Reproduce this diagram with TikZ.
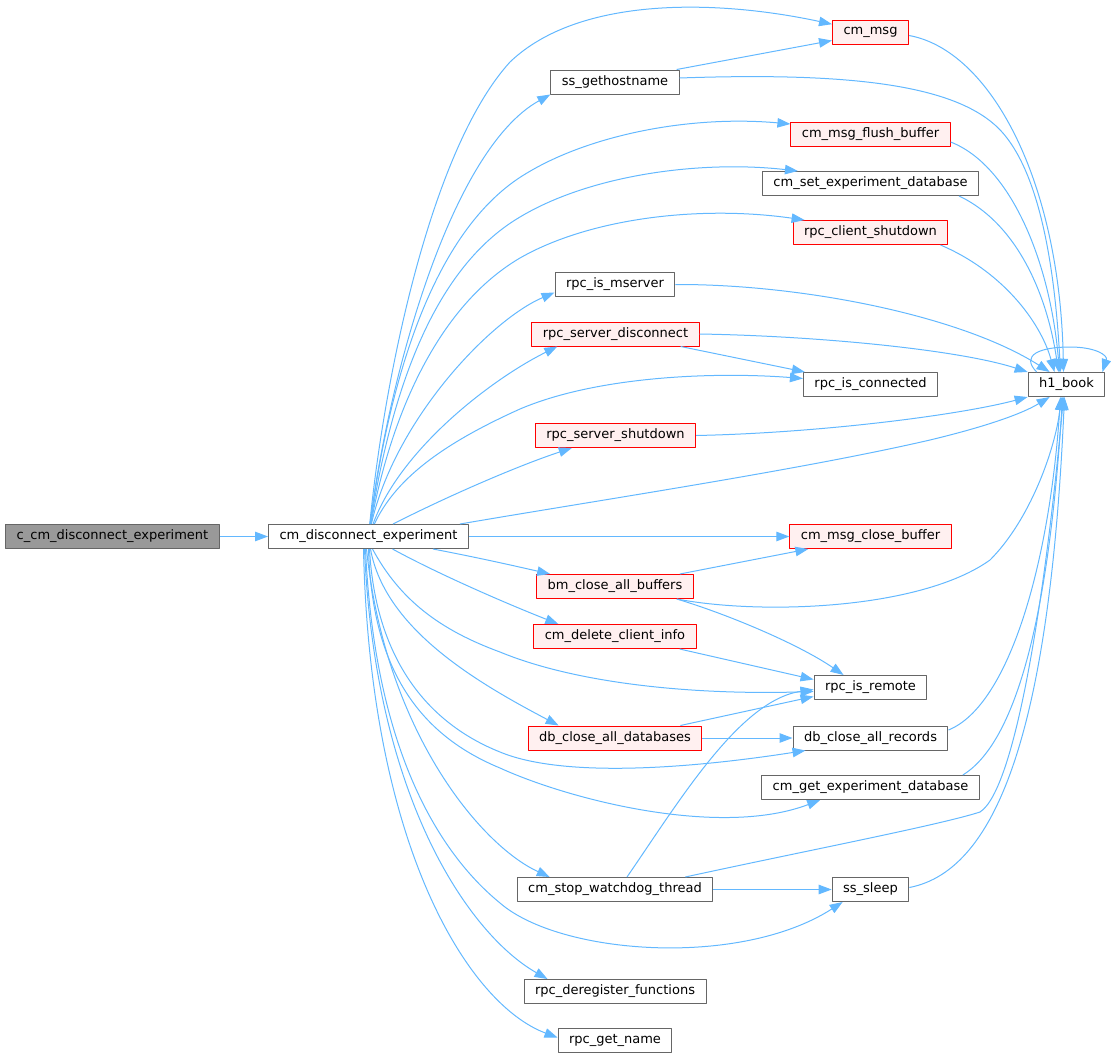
\documentclass[tikz,border=0pt]{standalone}
\usepackage{fontspec}
\setmainfont{DejaVu Sans}
\usetikzlibrary{arrows.meta}

\definecolor{edgecol}{HTML}{63B8FF}
\definecolor{nodegrey}{HTML}{666666}
\definecolor{redfill}{HTML}{FFF0F0}
\definecolor{rootfill}{HTML}{999999}

\begin{document}
\begin{tikzpicture}[>={Triangle[length=13bp,width=9.5bp]},line join=bevel,x=1bp,y=-1bp,
  fn/.style={draw=nodegrey,fill=white,line width=1bp,minimum height=24bp,
    inner xsep=11bp,inner ysep=0pt,font=\fontsize{13bp}{15bp}\selectfont},
  fnred/.style={fn,draw=red,fill=redfill},
  fnroot/.style={fn,fill=rootfill},
  call/.style={->,draw=edgecol,line width=1bp}]
\useasboundingbox (0,0) rectangle (1111,1059);

% Node: root
\node[fnroot] (root) at (112.5,536.5) {c\_cm\_disconnect\_experiment};
% Node: cde
\node[fn] (cde) at (368.5,536.5) {cm\_disconnect\_experiment};
% Node: cmmsg
\node[fnred] (cmmsg) at (870.5,32.5) {cm\_msg};
% Node: ssget
\node[fn] (ssget) at (615,82) {ss\_gethostname};
% Node: flush
\node[fnred] (flush) at (870.5,134) {cm\_msg\_flush\_buffer};
% Node: setdb
\node[fn] (setdb) at (870.5,183.5) {cm\_set\_experiment\_database};
% Node: clishut
\node[fnred] (clishut) at (870.5,232.5) {rpc\_client\_shutdown};
% Node: mserver
\node[fn] (mserver) at (615,284.5) {rpc\_is\_mserver};
% Node: srvdisc
\node[fnred] (srvdisc) at (615.5,334) {rpc\_server\_disconnect};
% Node: isconn
\node[fn] (isconn) at (870.5,384.5) {rpc\_is\_connected};
% Node: srvshut
\node[fnred] (srvshut) at (615.5,435.5) {rpc\_server\_shutdown};
% Node: h1
\node[fn] (h1) at (1066.5,384.5) {h1\_book};
% Node: closebuf
\node[fnred] (closebuf) at (870.5,536.5) {cm\_msg\_close\_buffer};
% Node: bmclose
\node[fnred] (bmclose) at (615,586.5) {bm\_close\_all\_buffers};
% Node: delinfo
\node[fnred] (delinfo) at (615,636.5) {cm\_delete\_client\_info};
% Node: isremote
\node[fn] (isremote) at (870.5,687.5) {rpc\_is\_remote};
% Node: dbclose
\node[fnred] (dbclose) at (615,738) {db\_close\_all\_databases};
% Node: dbrecs
\node[fn] (dbrecs) at (870.5,738) {db\_close\_all\_records};
% Node: getdb
\node[fn] (getdb) at (870.5,787.5) {cm\_get\_experiment\_database};
% Node: stopwd
\node[fn] (stopwd) at (615,889.5) {cm\_stop\_watchdog\_thread};
% Node: sleep
\node[fn] (sleep) at (870.5,889.5) {ss\_sleep};
% Node: dereg
\node[fn] (dereg) at (615,991.5) {rpc\_deregister\_functions};
% Node: getname
\node[fn] (getname) at (615,1040.5) {rpc\_get\_name};

% Edge: root -> cde
\draw[call] (root) -- (cde);

% Edge: cde -> cmmsg
\draw[call] (cde) .. controls (384,380) and (430,150) .. (510,62) .. controls (580,-5) and (720,0) .. (cmmsg);
% Edge: cde -> ssget
\draw[call] (cde) .. controls (388,380) and (450,150) .. (ssget.south west);
% Edge: cde -> flush
\draw[call] (cde) .. controls (388,390) and (430,230) .. (527,173) .. controls (590,135) and (690,115) .. ([yshift=10bp]flush.west);
% Edge: cde -> setdb
\draw[call] (cde) .. controls (390,400) and (430,270) .. (520,217) .. controls (590,175) and (700,160) .. ([xshift=36bp]setdb.north west);
% Edge: cde -> clishut
\draw[call] (cde) .. controls (392,410) and (440,305) .. (520,258) .. controls (590,218) and (700,205) .. ([xshift=12bp]clishut.north west);
% Edge: cde -> mserver
\draw[call] (cde) .. controls (395,420) and (490,320) .. ([yshift=-8bp]mserver.west);
% Edge: cde -> srvdisc
\draw[call] (cde) .. controls (400,450) and (490,380) .. ([xshift=26bp]srvdisc.south west);
% Edge: cde -> isconn
\draw[call] (cde) .. controls (395,480) and (440,445) .. (520,409) .. controls (600,375) and (720,372) .. ([yshift=6bp]isconn.west);
% Edge: cde -> srvshut
\draw[call] (cde) .. controls (450,495) and (520,465) .. ([xshift=37bp]srvshut.south west);
% Edge: cde -> h1
\draw[call] ([xshift=-9bp]cde.north east) .. controls (600,500) and (800,470) .. (930,440) .. controls (980,428) and (1020,415) .. ([xshift=22bp]h1.south west);
% Edge: cde -> closebuf
\draw[call] (cde) -- (closebuf);
% Edge: cde -> bmclose
\draw[call] ([xshift=-36bp]cde.south east) .. controls (480,558) and (515,566) .. ([xshift=14bp]bmclose.north west);
% Edge: cde -> delinfo
\draw[call] ([xshift=24bp]cde.south) .. controls (440,575) and (510,605) .. ([xshift=25bp]delinfo.north west);
% Edge: cde -> isremote
\draw[call] ([xshift=4bp]cde.south) .. controls (400,600) and (440,630) .. (500,652) .. controls (580,685) and (700,695) .. ([yshift=-4bp]isremote.west);
% Edge: cde -> dbclose
\draw[call] ([xshift=2bp]cde.south) .. controls (385,630) and (480,684) .. ([xshift=31bp]dbclose.north west);
% Edge: cde -> dbrecs
\draw[call] ([xshift=1bp]cde.south) .. controls (375,650) and (420,720) .. (500,752) .. controls (560,777) and (680,770) .. ([xshift=13bp]dbrecs.south west);
% Edge: cde -> getdb
\draw[call] (cde.south) .. controls (372,670) and (420,735) .. (500,768) .. controls (570,800) and (720,838) .. ([xshift=59bp]getdb.south west);
% Edge: cde -> stopwd
\draw[call] ([xshift=-2bp]cde.south) .. controls (385,730) and (480,845) .. ([xshift=33bp]stopwd.north west);
% Edge: cde -> sleep
\draw[call] ([xshift=-3bp]cde.south) .. controls (375,760) and (445,858) .. (500,903) .. controls (560,955) and (740,968) .. ([xshift=11bp]sleep.south west);
% Edge: cde -> dereg
\draw[call] ([xshift=-4bp]cde.south) .. controls (375,800) and (470,935) .. ([xshift=24bp]dereg.north west);
% Edge: cde -> getname
\draw[call] ([xshift=-5bp]cde.south) .. controls (370,850) and (470,1005) .. ([yshift=3bp]getname.west);

% Edge: ssget -> cmmsg
\draw[call] ([xshift=-3bp]ssget.north east) -- ([yshift=-8bp]cmmsg.west);
% Edge: ssget -> h1
\draw[call] ([yshift=4bp]ssget.east) .. controls (850,72) and (950,85) .. (995,125) .. controls (1040,165) and (1055,270) .. ([xshift=-6bp]h1.north);
% Edge: cmmsg -> h1
\draw[call] ([yshift=-3bp]cmmsg.east) .. controls (990,50) and (1060,180) .. ([xshift=-3bp]h1.north);
% Edge: flush -> h1
\draw[call] ([yshift=-8bp]flush.east) .. controls (1010,165) and (1050,260) .. ([xshift=-7bp]h1.north);
% Edge: setdb -> h1
\draw[call] ([xshift=-20bp]setdb.south east) .. controls (1020,225) and (1048,300) .. ([xshift=-8bp]h1.north);
% Edge: clishut -> h1
\draw[call] ([xshift=-8bp]clishut.south east) .. controls (1000,270) and (1040,320) .. ([xshift=-12bp]h1.north);
% Edge: mserver -> h1
\draw[call] (mserver.east) .. controls (800,284) and (960,315) .. ([xshift=22bp]h1.north west);
% Edge: srvdisc -> h1
\draw[call] (srvdisc.east) .. controls (820,336) and (960,350) .. (h1.north west);
% Edge: srvdisc -> isconn
\draw[call] ([xshift=-19bp]srvdisc.south east) -- ([xshift=2bp]isconn.north west);
% Edge: srvshut -> h1
\draw[call] (srvshut.east) .. controls (820,433) and (960,415) .. (h1.south west);
% Edge: bmclose -> closebuf
\draw[call] ([xshift=-14bp]bmclose.north east) -- ([xshift=19bp]closebuf.south west);
% Edge: bmclose -> h1
\draw[call] ([xshift=-17bp]bmclose.south east) .. controls (760,615) and (920,610) .. (990,560) .. controls (1030,520) and (1055,450) .. ([xshift=-5bp]h1.south);
% Edge: bmclose -> isremote
\draw[call] ([xshift=-17bp]bmclose.south east) .. controls (730,615) and (800,645) .. ([xshift=30bp]isremote.north west);
% Edge: delinfo -> isremote
\draw[call] ([xshift=-17bp]delinfo.south east) -- ([yshift=8bp]isremote.west);
% Edge: dbclose -> isremote
\draw[call] ([xshift=-22bp]dbclose.north east) -- ([yshift=-9bp]isremote.west);
% Edge: dbclose -> dbrecs
\draw[call] (dbclose) -- (dbrecs);
% Edge: dbrecs -> h1
\draw[call] ([yshift=8bp]dbrecs.east) .. controls (1010,705) and (1050,560) .. ([xshift=-6bp]h1.south);
% Edge: getdb -> h1
\draw[call] ([xshift=-17bp]getdb.north east) .. controls (1020,740) and (1050,600) .. ([xshift=-4bp]h1.south);
% Edge: stopwd -> isremote
\draw[call] ([xshift=12bp]stopwd.north) .. controls (680,800) and (740,700) .. ([yshift=-2bp]isremote.west);
% Edge: stopwd -> sleep
\draw[call] (stopwd) -- (sleep);
% Edge: stopwd -> h1
\draw[call] ([xshift=-28bp]stopwd.north east) .. controls (800,852) and (940,825) .. (980,812) .. controls (1015,790) and (1045,600) .. ([xshift=-3bp]h1.south);
% Edge: sleep -> h1
\draw[call] ([yshift=2bp]sleep.east) .. controls (1000,870) and (1050,720) .. ([xshift=-2bp]h1.south);
% Edge: h1 -> h1
\draw[call] ([xshift=9bp]h1.north west) .. controls (1020,355) and (1040,347) .. (1070,347) .. controls (1095,347) and (1108,355) .. ([xshift=-3bp]h1.north east);
%
\end{tikzpicture}
\end{document}
